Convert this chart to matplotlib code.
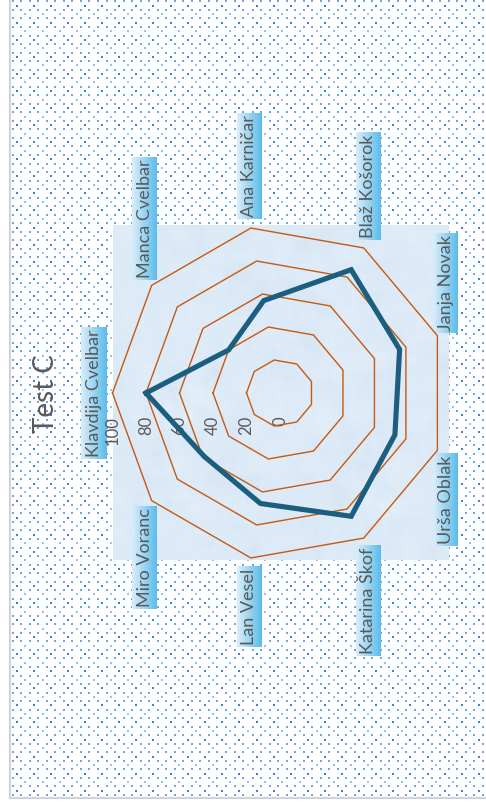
import numpy as np
import matplotlib
matplotlib.use("Agg")
import matplotlib.pyplot as plt

# Test C – rezultati po učencih
names = ["Klavdija Cvelbar", "Manca Cvelbar", "Ana Karničar", "Blaž Košorok",
         "Janja Novak", "Urša Oblak", "Katarina Škof", "Lan Vesel", "Miro Voranc"]
scores = [80, 40, 56, 85, 76, 73, 85, 67, 59]
rings = [0, 20, 40, 60, 80, 100]
title = "Test C"

W, H = 486, 807
GRAY = "#595959"
FONT = ["Lato", "DejaVu Sans"]

fig = plt.figure(figsize=(W / 100, H / 100), dpi=100)

# ozadje v pikslih (y navzdol)
bg = fig.add_axes([0, 0, 1, 1])
bg.set_xlim(0, W)
bg.set_ylim(H, 0)
bg.set_autoscale_on(False)
bg.axis("off")

# vzorec pik na ozadju grafikona
img = np.ones((H, W, 3))
x_edge, y_edge = 10, 797
step = 8.533
row = step / 2
full = np.array([110, 165, 230]) / 255
dark = np.array([60, 130, 215]) / 255
light = np.array([150, 192, 240]) / 255
i = 0
y = y_edge - 3
while y > -2:
    if i % 2 == 0:
        xs, col = np.arange(11.7, W, step), full
    elif i % 4 == 1:
        xs, col = np.arange(11.7 + row, W, 2 * step), dark
    else:
        xs, col = np.arange(11.7 + 3 * row, W, 2 * step), light
    yy = int(round(y))
    for x in xs:
        xx = int(round(x))
        img[max(yy, 0):yy + 2, xx:xx + 2] = col
    y -= row
    i += 1
img[:, :x_edge] = 1
img[y_edge:, :] = 1
bg.imshow(img, extent=(0, W, H, 0), interpolation="nearest", zorder=0)
bg.plot([9.5, 9.5], [0, y_edge + 0.5], color="#d4d4d4", lw=1.6, zorder=1)
bg.plot([9.5, W], [y_edge + 0.5, y_edge + 0.5], color="#d4d4d4", lw=1.6, zorder=1)

# polarni graf
cx, cy, R = 280, 393, 167.5
ax = fig.add_axes([(cx - R) / W, (H - cy - R) / H, 2 * R / W, 2 * R / H],
                  projection="polar")
ax.set_zorder(2)
ax.set_theta_zero_location("W")
ax.set_theta_direction(-1)
ax.set_ylim(0, 100)
ax.axis("off")

theta = np.linspace(0, 2 * np.pi, len(names), endpoint=False)
closed = np.append(theta, theta[0])
for r in rings[1:]:
    ax.plot(closed, [r] * len(closed), color="#c55a11", lw=1.0, clip_on=False)
ax.plot(closed, scores + scores[:1], color="#1b5e80", lw=3.7,
        solid_joinstyle="miter", clip_on=False)

# območje risanja z rahlo teksturo
pos = ax.get_position()
px0, px1 = pos.x0 * W, pos.x1 * W
py0, py1 = H - pos.y1 * H, H - pos.y0 * H
rng = np.random.default_rng(4)
noise = rng.normal(size=(120, 120))
k = np.ones(7) / 7
for axis_ in (0, 1):
    noise = np.apply_along_axis(lambda m: np.convolve(m, k, mode="same"), axis_, noise)
noise /= np.abs(noise).max()
base = np.array([221, 234, 247]) / 255
tex = np.clip(base + 0.025 * noise[..., None] * np.array([1, 0.8, 0.5]), 0, 1)
bg.imshow(tex, extent=(px0, px1, py1, py0), interpolation="bilinear",
          aspect="auto", zorder=1)


def to_img(t, r):
    dx, dy = ax.transData.transform((t, r))
    return dx, H - dy


renderer = fig.canvas.get_renderer()
grad = np.linspace([218, 238, 250], [92, 188, 234], 40)[None, :, :] / 255
ccx, ccy = to_img(0, 0)
pad = 2
for t, name in zip(theta, names):
    vx, vy = to_img(t, 100)
    ux, uy = vx - ccx, vy - ccy
    n = np.hypot(ux, uy)
    ux, uy = ux / n, uy / n
    lx, ly = vx + 9 * ux, vy + 9 * uy
    if ux < -0.99:
        ha, va = "right", "center"
        lx -= pad
    elif uy < 0:
        ha, va = "center", "bottom"
        ly -= pad
    else:
        ha, va = "center", "top"
        ly += pad
    txt = bg.text(lx, ly, name, rotation=90, ha=ha, va=va, fontsize=13,
                  color=GRAY, family=FONT, zorder=4)
    bb = txt.get_window_extent(renderer)
    xm = (bb.x0 + bb.x1) / 2
    bg.imshow(grad, extent=(xm - 12.5, xm + 12.5, H - bb.y0 + pad, H - bb.y1 - pad),
              aspect="auto", interpolation="bilinear", zorder=3)

# oznake vrednosti
for r in rings:
    x, _ = to_img(0, r)
    bg.text(x, ccy + 23, str(r), rotation=90, ha="center", va="top",
            fontsize=12, color=GRAY, family=FONT, zorder=4)

bg.text(46, 394, title, rotation=90, ha="center", va="center", fontsize=20,
        color=GRAY, family=FONT, zorder=4)

fig.savefig("out.png", dpi=100)
